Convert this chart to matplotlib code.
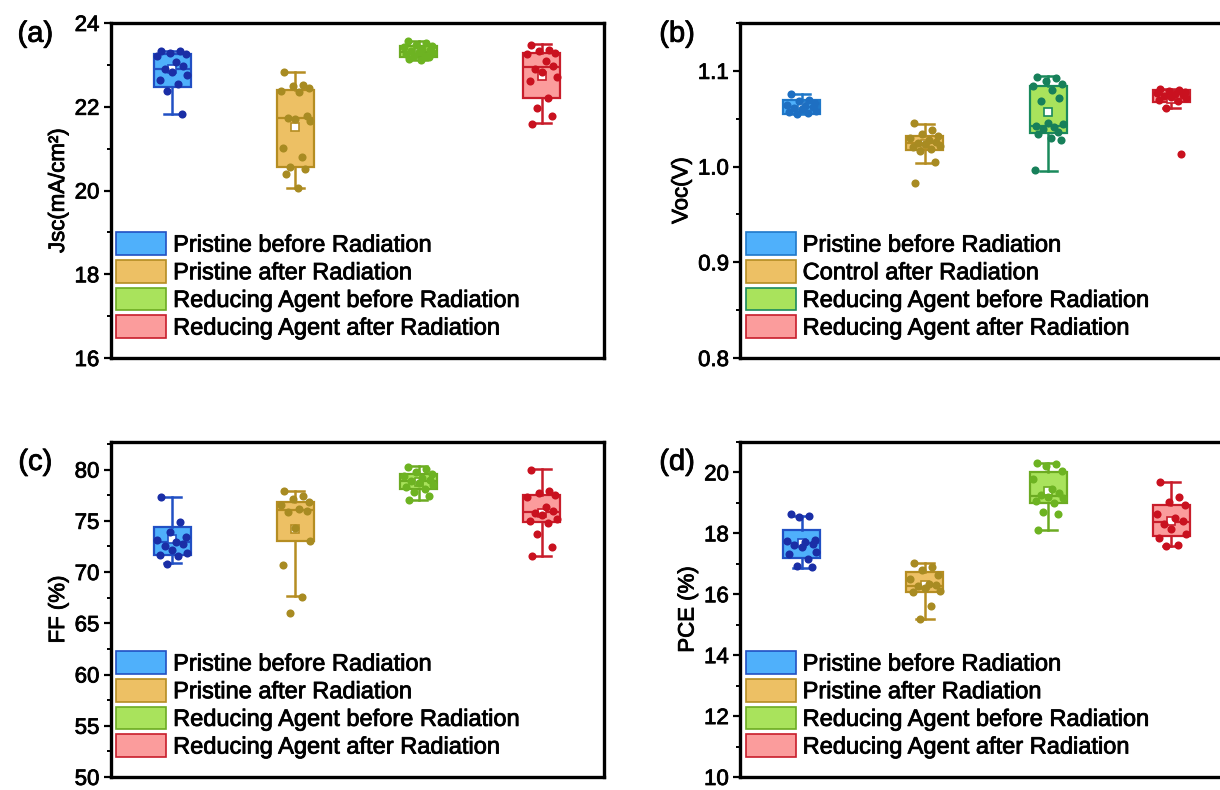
import numpy as np
import matplotlib
matplotlib.use('Agg')
import matplotlib.pyplot as plt
import matplotlib.patheffects as pe
from matplotlib.patches import Patch
from matplotlib.text import Text
from matplotlib.ticker import MultipleLocator, AutoMinorLocator, FormatStrFormatter

plt.rcParams['font.family'] = ['Liberation Sans', 'DejaVu Sans']

# legend texts
labels_std = ['Pristine before Radiation', 'Pristine after Radiation',
              'Reducing Agent before Radiation', 'Reducing Agent after Radiation']
labels_voc = ['Pristine before Radiation', 'Control after Radiation',
              'Reducing Agent before Radiation', 'Reducing Agent after Radiation']

# ---- Jsc (mA/cm2) ----
jsc_points = [
    [23.33, 23.32, 23.28, 23.26, 23.22, 23.08, 22.97, 22.90, 22.84, 22.76, 22.65, 22.55, 22.37, 21.83],
    [22.84, 22.52, 22.50, 22.45, 22.38, 22.35, 21.78, 21.72, 21.70, 21.65, 21.02, 20.80, 20.56, 20.52, 20.40, 20.06],
    [23.58, 23.52, 23.48, 23.45, 23.42, 23.38, 23.35, 23.32, 23.30, 23.28, 23.25, 23.22, 23.20, 23.18, 23.15, 23.12],
    [23.47, 23.36, 23.33, 23.28, 23.25, 23.10, 22.97, 22.90, 22.82, 22.70, 22.62, 22.22, 21.98, 21.78, 21.60],
]
jsc_q1 = [22.47, 20.55, 23.18, 22.21]
jsc_med = [22.91, 21.72, 23.30, 22.94]
jsc_q3 = [23.27, 22.39, 23.45, 23.29]
jsc_lo = [21.83, 20.06, 23.12, 21.61]
jsc_hi = [23.33, 22.83, 23.58, 23.49]
jsc_mean = [22.90, 21.51, 23.32, 22.73]

# ---- Voc (V) ----
voc_points = [
    [1.076, 1.070, 1.068, 1.066, 1.064, 1.063, 1.062, 1.061, 1.060, 1.058, 1.057, 1.056, 1.055],
    [1.046, 1.038, 1.034, 1.032, 1.030, 1.028, 1.026, 1.025, 1.024, 1.022, 1.020, 1.018, 1.016, 1.005, 0.983],
    [1.094, 1.093, 1.089, 1.086, 1.084, 1.080, 1.072, 1.068, 1.046, 1.044, 1.042, 1.041, 1.039, 1.036,
     1.034, 1.030, 1.028, 0.996],
    [1.081, 1.080, 1.079, 1.078, 1.077, 1.076, 1.075, 1.074, 1.073, 1.072, 1.070, 1.068, 1.061, 1.013],
]
voc_q1 = [1.0547, 1.0172, 1.0350, 1.0676]
voc_med = [1.0624, 1.0248, 1.0422, 1.0753]
voc_q3 = [1.0693, 1.0321, 1.0845, 1.0798]
voc_lo = [1.0547, 1.0033, 0.9953, 1.0607]
voc_hi = [1.0760, 1.0450, 1.0944, 1.0810]
voc_mean = [1.063, 1.024, 1.057, 1.071]

# ---- FF (%) ----
ff_points = [
    [77.3, 74.9, 73.9, 73.4, 73.1, 72.9, 72.7, 72.5, 72.2, 71.9, 71.7, 71.6, 70.8],
    [77.9, 77.4, 77.1, 76.8, 76.5, 76.2, 76.0, 75.9, 74.3, 73.0, 70.7, 67.6, 66.0],
    [80.3, 80.1, 79.8, 79.6, 79.4, 79.2, 79.0, 78.9, 78.7, 78.5, 78.3, 78.1, 77.8, 77.4, 77.0],
    [80.0, 77.9, 77.7, 77.5, 77.3, 76.3, 76.0, 75.8, 75.6, 75.2, 75.0, 74.8, 73.7, 72.4, 71.6],
]
ff_q1 = [71.71, 73.05, 78.15, 74.90]
ff_med = [72.95, 76.04, 78.90, 75.88]
ff_q3 = [74.41, 76.79, 79.55, 77.50]
ff_lo = [70.90, 67.64, 77.01, 71.58]
ff_hi = [77.34, 77.89, 80.33, 80.04]
ff_mean = [73.27, 74.25, 78.80, 75.80]

# ---- PCE (%) ----
pce_points = [
    [18.62, 18.58, 18.55, 17.78, 17.74, 17.70, 17.66, 17.62, 17.55, 17.40, 17.32, 17.15, 16.92, 16.88],
    [17.02, 16.88, 16.80, 16.62, 16.50, 16.35, 16.30, 16.26, 16.20, 16.12, 16.08, 15.62, 15.20],
    [20.32, 20.28, 20.22, 20.05, 19.78, 19.45, 19.32, 19.25, 19.20, 19.15, 19.05, 19.00, 18.70, 18.65, 18.12],
    [19.70, 19.18, 19.02, 18.92, 18.65, 18.50, 18.40, 18.32, 18.15, 17.98, 17.85, 17.62, 17.58],
]
pce_q1 = [17.18, 16.07, 18.98, 17.92]
pce_med = [17.67, 16.28, 19.23, 18.36]
pce_q3 = [18.11, 16.72, 20.00, 18.93]
pce_lo = [16.85, 15.19, 18.11, 17.59]
pce_hi = [18.58, 17.02, 20.30, 19.69]
pce_mean = [17.68, 16.30, 19.40, 18.40]

# colours
fill = ['#4fb0fb', '#edc064', '#a9e35c', '#fb9c9c']
edge = ['#2150c4', '#b58d22', '#6cab22', '#c81d2b']
dots = ['#1a2ea6', '#a88b22', '#6db322', '#c9111f']
edge_b = ['#1f78c9', '#b58d22', '#1a8a5c', '#c81d2b']
dots_b = ['#1e6fc2', '#a88b22', '#17805a', '#c9111f']

# fixed horizontal spread of the scatter points inside each box
spread = np.array([-0.09, 0.06, -0.02, 0.11, -0.12, 0.03, 0.09, -0.06, 0.0,
                   0.12, -0.10, 0.05, -0.04, 0.08, -0.08, 0.02, 0.10, -0.11])


def draw_panel(ax, pts, q1, med, q3, lo, hi, mean, ec, dc, ylim, step, fmt, ylabel, labels):
    stats = []
    for i in range(4):
        stats.append(dict(q1=q1[i], med=med[i], q3=q3[i], whislo=lo[i],
                          whishi=hi[i], mean=mean[i], fliers=[]))
    bp = ax.bxp(stats, positions=[1, 2, 3, 4], widths=0.3, capwidths=0.14,
                showmeans=True, patch_artist=True, showfliers=False, manage_ticks=False)
    for i in range(4):
        bp['boxes'][i].set(facecolor=fill[i], edgecolor=ec[i], linewidth=1.6, zorder=2)
        for art in bp['whiskers'][2 * i:2 * i + 2] + bp['caps'][2 * i:2 * i + 2]:
            art.set(color=ec[i], linewidth=1.8, zorder=2)
        bp['medians'][i].set(color=ec[i], linewidth=1.6, zorder=3)
        bp['means'][i].set(marker='s', markerfacecolor='white', markeredgecolor=ec[i],
                           markersize=6, markeredgewidth=1.2, zorder=3)
        y = np.array(pts[i])
        ax.scatter(i + 1 + spread[:len(y)], y, s=34, color=dc[i], lw=0, zorder=4)

    ax.set_xlim(0.5, 4.5)
    ax.set_ylim(*ylim)
    ax.set_xticks([])
    ax.yaxis.set_major_locator(MultipleLocator(step))
    ax.yaxis.set_minor_locator(AutoMinorLocator(2))
    ax.yaxis.set_major_formatter(FormatStrFormatter(fmt))
    ax.tick_params(axis='y', which='major', direction='out', length=5, width=1.6,
                   labelsize=16, pad=3)
    ax.tick_params(axis='y', which='minor', direction='out', length=3, width=1.4)
    for sp in ax.spines.values():
        sp.set_linewidth(2.4)
    ax.set_ylabel(ylabel, fontsize=16, labelpad=4)

    handles = [Patch(facecolor=fill[i], edgecolor=ec[i], linewidth=1.2, label=labels[i])
               for i in range(4)]
    ax.legend(handles=handles, loc='lower left', bbox_to_anchor=(0.012, 0.055),
              frameon=False, fontsize=17, handlelength=2.1, handleheight=1.1,
              labelspacing=0.14, handletextpad=0.3, borderpad=0, borderaxespad=0)


fig = plt.figure(figsize=(12.2, 7.9), dpi=100)
w, h = 0.4041, 0.4241
ax_a = fig.add_axes([0.0906, 0.5468, w, h])
ax_b = fig.add_axes([0.6066, 0.5468, w, h])
ax_c = fig.add_axes([0.0906, 0.0165, w, h])
ax_d = fig.add_axes([0.6066, 0.0165, w, h])

draw_panel(ax_a, jsc_points, jsc_q1, jsc_med, jsc_q3, jsc_lo, jsc_hi, jsc_mean,
           edge, dots, (16, 24), 2, '%d', 'Jsc(mA/cm²)', labels_std)
draw_panel(ax_b, voc_points, voc_q1, voc_med, voc_q3, voc_lo, voc_hi, voc_mean,
           edge_b, dots_b, (0.8, 1.15), 0.1, '%.1f', 'Voc(V)', labels_voc)
draw_panel(ax_c, ff_points, ff_q1, ff_med, ff_q3, ff_lo, ff_hi, ff_mean,
           edge, dots, (50, 82.7), 5, '%d', 'FF (%)', labels_std)
draw_panel(ax_d, pce_points, pce_q1, pce_med, pce_q3, pce_lo, pce_hi, pce_mean,
           edge, dots, (10, 21), 2, '%d', 'PCE (%)', labels_std)

for txt, x, y in [('(a)', 0.029, 0.975), ('(b)', 0.555, 0.975),
                  ('(c)', 0.029, 0.433), ('(d)', 0.555, 0.433)]:
    fig.text(x, y, txt, fontsize=21, ha='center', va='top')

# slightly heavier strokes on all lettering
for t in fig.findobj(Text):
    t.set_path_effects([pe.Stroke(linewidth=0.6), pe.Normal()])

fig.savefig('out.png', dpi=100)
